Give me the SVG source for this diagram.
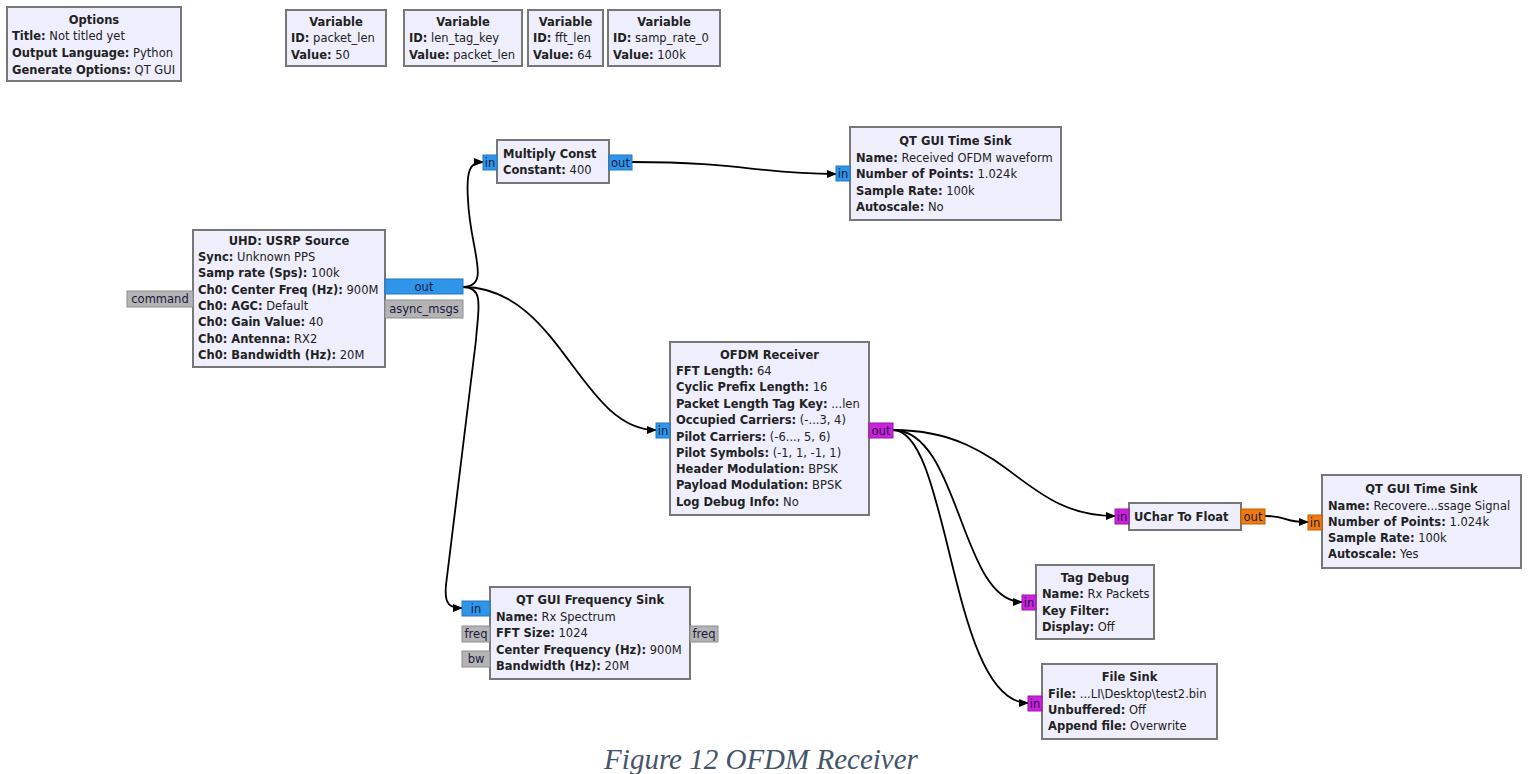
<svg xmlns="http://www.w3.org/2000/svg" width="1531" height="774" viewBox="0 0 1531 774">
<defs>
<style>
.blk{fill:#EEEEFC;stroke:#777;stroke-width:2}
text{font-family:"DejaVu Sans",sans-serif;font-size:11.5px;fill:#222}
.t{font-weight:bold;text-anchor:middle}
.b{font-weight:bold}
.pb{fill:#2E95E8;stroke:#2377C4;stroke-width:1}
.pm{fill:#CC22DD;stroke:#A010B0;stroke-width:1}
.po{fill:#F07A10;stroke:#C05E00;stroke-width:1}
.pg{fill:#B4B4B4;stroke:#8E8E8E;stroke-width:1}
.pl{font-size:11.5px;text-anchor:middle;fill:#1a1a40}
.c{fill:none;stroke:#000;stroke-width:1.8}
.cap{font-family:"Liberation Serif",serif;font-style:italic;font-size:29px;fill:#44546A;text-anchor:middle}
</style>
<marker id="ah" markerWidth="10" markerHeight="8" refX="9" refY="4" orient="auto" markerUnits="userSpaceOnUse">
<path d="M0,0 L10,4 L0,8 Z" fill="#000"/>
</marker>
</defs>

<g id="options">
<rect class="blk" x="7" y="7" width="174" height="74"/>
<text class="t" x="94" y="24">Options</text>
<text x="12" y="40"><tspan class="b">Title:</tspan> Not titled yet</text>
<text x="12" y="57"><tspan class="b">Output Language:</tspan> Python</text>
<text x="12" y="74"><tspan class="b">Generate Options:</tspan> QT GUI</text>
</g>

<g id="var_packet_len">
<rect class="blk" x="286" y="10" width="100" height="56"/>
<text class="t" x="336" y="26">Variable</text>
<text x="291" y="42"><tspan class="b">ID:</tspan> packet_len</text>
<text x="291" y="59"><tspan class="b">Value:</tspan> 50</text>
</g>

<g id="var_len_tag_key">
<rect class="blk" x="404" y="10" width="118" height="56"/>
<text class="t" x="463" y="26">Variable</text>
<text x="409" y="42"><tspan class="b">ID:</tspan> len_tag_key</text>
<text x="409" y="59"><tspan class="b">Value:</tspan> packet_len</text>
</g>

<g id="var_fft_len">
<rect class="blk" x="528" y="10" width="75" height="56"/>
<text class="t" x="565.5" y="26">Variable</text>
<text x="533" y="42"><tspan class="b">ID:</tspan> fft_len</text>
<text x="533" y="59"><tspan class="b">Value:</tspan> 64</text>
</g>

<g id="var_samp_rate_0">
<rect class="blk" x="608" y="10" width="112" height="56"/>
<text class="t" x="664" y="26">Variable</text>
<text x="613" y="42"><tspan class="b">ID:</tspan> samp_rate_0</text>
<text x="613" y="59"><tspan class="b">Value:</tspan> 100k</text>
</g>

<g id="connectors">
<path class="c" d="M463,287 C492,287 470,250 468,200 C466,170 470,162 483,162" marker-end="url(#ah)"/>
<path class="c" d="M632,162 C740,162 760,174 836,174" marker-end="url(#ah)"/>
<path class="c" d="M463,287 C560,287 580,430 656,430" marker-end="url(#ah)"/>
<path class="c" d="M463,287 C485,287 478,310 476,340 L446,585 C444,605 450,608 462,608" marker-end="url(#ah)"/>
<path class="c" d="M893,430 C1010,430 1020,516 1115,516" marker-end="url(#ah)"/>
<path class="c" d="M893,430 C960,430 960,602 1022,602" marker-end="url(#ah)"/>
<path class="c" d="M893,430 C950,430 950,703 1028,703" marker-end="url(#ah)"/>
<path class="c" d="M1265,516 C1290,516 1280,522 1308,522" marker-end="url(#ah)"/>
</g>

<g id="multiply_const">
<rect class="blk" x="497" y="140" width="112" height="43"/>
<text class="b" x="503" y="158">Multiply Const</text>
<text x="503" y="174"><tspan class="b">Constant:</tspan> 400</text>
<rect class="pb" x="483" y="155" width="14" height="15"/>
<text class="pl" x="490" y="167">in</text>
<rect class="pb" x="609" y="155" width="23" height="15"/>
<text class="pl" x="620.5" y="167">out</text>
</g>

<g id="time_sink_1">
<rect class="blk" x="850" y="127" width="211" height="93"/>
<text class="t" x="955.5" y="145">QT GUI Time Sink</text>
<text x="856" y="162"><tspan class="b">Name:</tspan> Received OFDM waveform</text>
<text x="856" y="178"><tspan class="b">Number of Points:</tspan> 1.024k</text>
<text x="856" y="195"><tspan class="b">Sample Rate:</tspan> 100k</text>
<text x="856" y="211"><tspan class="b">Autoscale:</tspan> No</text>
<rect class="pb" x="836" y="166" width="14" height="15"/>
<text class="pl" x="843" y="178">in</text>
</g>

<g id="usrp_source">
<rect class="blk" x="193" y="230" width="192" height="137"/>
<text class="t" x="289" y="245">UHD: USRP Source</text>
<text x="198" y="261"><tspan class="b">Sync:</tspan> Unknown PPS</text>
<text x="198" y="277"><tspan class="b">Samp rate (Sps):</tspan> 100k</text>
<text x="198" y="294"><tspan class="b">Ch0: Center Freq (Hz):</tspan> 900M</text>
<text x="198" y="310"><tspan class="b">Ch0: AGC:</tspan> Default</text>
<text x="198" y="326"><tspan class="b">Ch0: Gain Value:</tspan> 40</text>
<text x="198" y="343"><tspan class="b">Ch0: Antenna:</tspan> RX2</text>
<text x="198" y="359"><tspan class="b">Ch0: Bandwidth (Hz):</tspan> 20M</text>
<rect class="pb" x="385" y="279" width="78" height="15"/>
<text class="pl" x="424" y="291">out</text>
<rect class="pg" x="385" y="300" width="78" height="18"/>
<text class="pl" x="424" y="313">async_msgs</text>
<rect class="pg" x="127" y="291" width="66" height="16"/>
<text class="pl" x="160" y="303">command</text>
</g>

<g id="ofdm_receiver">
<rect class="blk" x="670" y="342" width="199" height="173"/>
<text class="t" x="769.5" y="359">OFDM Receiver</text>
<text x="676" y="375"><tspan class="b">FFT Length:</tspan> 64</text>
<text x="676" y="391"><tspan class="b">Cyclic Prefix Length:</tspan> 16</text>
<text x="676" y="408"><tspan class="b">Packet Length Tag Key:</tspan> ...len</text>
<text x="676" y="424"><tspan class="b">Occupied Carriers:</tspan> (-...3, 4)</text>
<text x="676" y="441"><tspan class="b">Pilot Carriers:</tspan> (-6..., 5, 6)</text>
<text x="676" y="457"><tspan class="b">Pilot Symbols:</tspan> (-1, 1, -1, 1)</text>
<text x="676" y="473"><tspan class="b">Header Modulation:</tspan> BPSK</text>
<text x="676" y="489"><tspan class="b">Payload Modulation:</tspan> BPSK</text>
<text x="676" y="506"><tspan class="b">Log Debug Info:</tspan> No</text>
<rect class="pb" x="656" y="423" width="14" height="15"/>
<text class="pl" x="663" y="435">in</text>
<rect class="pm" x="869" y="423" width="24" height="15"/>
<text class="pl" x="881" y="435">out</text>
</g>

<g id="uchar_to_float">
<rect class="blk" x="1129" y="503" width="112" height="27"/>
<text class="b" x="1134" y="521">UChar To Float</text>
<rect class="pm" x="1115" y="509" width="14" height="15"/>
<text class="pl" x="1122" y="521">in</text>
<rect class="po" x="1241" y="509" width="24" height="15"/>
<text class="pl" x="1253" y="521">out</text>
</g>

<g id="time_sink_2">
<rect class="blk" x="1322" y="475" width="199" height="93"/>
<text class="t" x="1421.5" y="493">QT GUI Time Sink</text>
<text x="1328" y="510"><tspan class="b">Name:</tspan> Recovere...ssage Signal</text>
<text x="1328" y="526"><tspan class="b">Number of Points:</tspan> 1.024k</text>
<text x="1328" y="542"><tspan class="b">Sample Rate:</tspan> 100k</text>
<text x="1328" y="558"><tspan class="b">Autoscale:</tspan> Yes</text>
<rect class="po" x="1308" y="515" width="14" height="15"/>
<text class="pl" x="1315" y="527">in</text>
</g>

<g id="freq_sink">
<rect class="blk" x="490" y="587" width="200" height="92"/>
<text class="t" x="590" y="604">QT GUI Frequency Sink</text>
<text x="496" y="621"><tspan class="b">Name:</tspan> Rx Spectrum</text>
<text x="496" y="637"><tspan class="b">FFT Size:</tspan> 1024</text>
<text x="496" y="654"><tspan class="b">Center Frequency (Hz):</tspan> 900M</text>
<text x="496" y="670"><tspan class="b">Bandwidth (Hz):</tspan> 20M</text>
<rect class="pb" x="462" y="601" width="28" height="15"/>
<text class="pl" x="476" y="613">in</text>
<rect class="pg" x="462" y="626" width="28" height="16"/>
<text class="pl" x="476" y="638">freq</text>
<rect class="pg" x="462" y="651" width="28" height="16"/>
<text class="pl" x="476" y="663">bw</text>
<rect class="pg" x="690" y="626" width="28" height="16"/>
<text class="pl" x="704" y="638">freq</text>
</g>

<g id="tag_debug">
<rect class="blk" x="1036" y="565" width="118" height="74"/>
<text class="t" x="1095" y="582">Tag Debug</text>
<text x="1042" y="598"><tspan class="b">Name:</tspan> Rx Packets</text>
<text x="1042" y="615"><tspan class="b">Key Filter:</tspan></text>
<text x="1042" y="631"><tspan class="b">Display:</tspan> Off</text>
<rect class="pm" x="1022" y="595" width="14" height="15"/>
<text class="pl" x="1029" y="607">in</text>
</g>

<g id="file_sink">
<rect class="blk" x="1042" y="664" width="175" height="75"/>
<text class="t" x="1129.5" y="681">File Sink</text>
<text x="1048" y="698"><tspan class="b">File:</tspan> ...LI\Desktop\test2.bin</text>
<text x="1048" y="714"><tspan class="b">Unbuffered:</tspan> Off</text>
<text x="1048" y="730"><tspan class="b">Append file:</tspan> Overwrite</text>
<rect class="pm" x="1028" y="696" width="14" height="15"/>
<text class="pl" x="1035" y="708">in</text>
</g>

<text class="cap" x="761" y="769">Figure 12 OFDM Receiver</text>
</svg>
